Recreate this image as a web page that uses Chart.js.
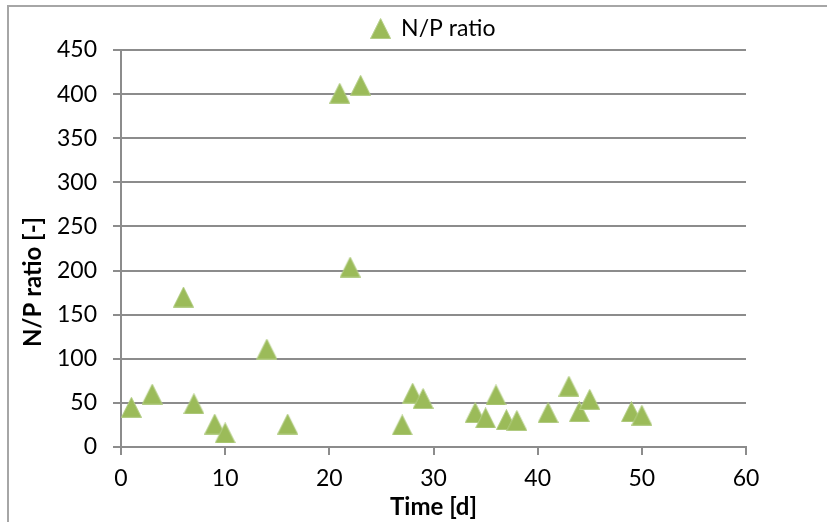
<!DOCTYPE html>
<html>
<head>
<meta charset="utf-8">
<script src="https://cdn.jsdelivr.net/npm/chart.js@4.4.1/dist/chart.umd.min.js"></script>
<style>
    html, body { margin: 0; padding: 0; background: #fff; overflow: hidden; }
    #wrap { position: relative; width: 827px; height: 522px; }
    #frame {
        position: absolute; left: 7px; top: 5px; width: 840px; height: 540px;
        border: 2px solid #a6a6a6; pointer-events: none;
    }
</style>
</head>
<body>
<div id="wrap">
    <canvas id="scatterChart" width="827" height="522"></canvas>
    <div id="frame"></div>
</div>
<script>
    const timeDays = [1, 3, 6, 7, 9, 10, 14, 16, 21, 22, 23, 27, 28, 29, 34, 35, 36, 37, 38, 41, 43, 44, 45, 49, 50];
    const npRatio = [45, 60, 170, 49, 26, 16, 111, 26, 401, 204, 410, 25, 61, 55, 39, 33, 59, 31, 30, 39, 69, 40, 54, 40, 36];
    const xTicks = [0, 10, 20, 30, 40, 50, 60];
    const yTicks = [0, 50, 100, 150, 200, 250, 300, 350, 400, 450];

    const green = '#9bbb59';
    const gridGray = '#8c8c8c';

    // Excel-like triangle marker, centred on its box
    function makeTriangle(size) {
        const c = document.createElement('canvas');
        c.width = size;
        c.height = size;
        const g = c.getContext('2d');
        g.beginPath();
        g.moveTo(size / 2, 0.5);
        g.lineTo(size - 0.5, size - 0.5);
        g.lineTo(0.5, size - 0.5);
        g.closePath();
        g.fillStyle = green;
        g.fill();
        g.strokeStyle = '#b3cd85';
        g.lineWidth = 1;
        g.stroke();
        return c;
    }
    const marker = makeTriangle(21);

    const points = timeDays.map((t, i) => ({ x: t, y: npRatio[i] }));

    const yTitle = {
        id: 'yTitle',
        afterDraw(chart) {
            const ctx = chart.ctx;
            ctx.save();
            ctx.translate(33, 282);
            ctx.rotate(-Math.PI / 2);
            ctx.font = 'bold 24px Lato';
            ctx.fillStyle = '#000';
            ctx.textAlign = 'center';
            ctx.textBaseline = 'middle';
            ctx.fillText('N/P ratio [-]', 0, 0);
            ctx.restore();
        }
    };

    const ctx = document.getElementById('scatterChart').getContext('2d');
    new Chart(ctx, {
        type: 'scatter',
        data: {
            datasets: [{
                label: 'N/P ratio',
                data: points,
                pointStyle: marker,
                backgroundColor: green,
                borderColor: green
            }]
        },
        options: {
            responsive: false,
            animation: false,
            layout: { padding: { top: 5, right: 81, left: 0, bottom: 0 } },
            plugins: {
                legend: {
                    fullSize: false,
                    labels: {
                        usePointStyle: true,
                        boxWidth: 18,
                        padding: 12,
                        color: '#000',
                        font: { family: 'Lato', size: 23 }
                    }
                },
                tooltip: { enabled: false }
            },
            scales: {
                x: {
                    type: 'linear',
                    min: 0,
                    max: 60,
                    afterBuildTicks(scale) {
                        scale.ticks = xTicks.map(v => ({ value: v }));
                    },
                    afterFit(scale) { scale.height = 75; },
                    grid: { drawOnChartArea: false, drawTicks: true, tickLength: 8, color: gridGray, lineWidth: 2 },
                    border: { display: true, color: gridGray, width: 2 },
                    ticks: { color: '#000', padding: 10, font: { family: 'Lato', size: 23 } },
                    title: {
                        display: true,
                        text: 'Time [d]',
                        color: '#000',
                        padding: 0,
                        font: { family: 'Lato', size: 24, weight: 'bold' }
                    }
                },
                y: {
                    min: 0,
                    max: 450,
                    afterBuildTicks(scale) {
                        scale.ticks = yTicks.map(v => ({ value: v }));
                    },
                    afterFit(scale) { scale.width = 121; },
                    grid: { drawTicks: true, tickLength: 8, color: gridGray, lineWidth: 2 },
                    border: { display: true, color: gridGray, width: 2 },
                    ticks: { color: '#000', padding: 16, font: { family: 'Lato', size: 23 } }
                }
            }
        },
        plugins: [yTitle]
    });
</script>
</body>
</html>
